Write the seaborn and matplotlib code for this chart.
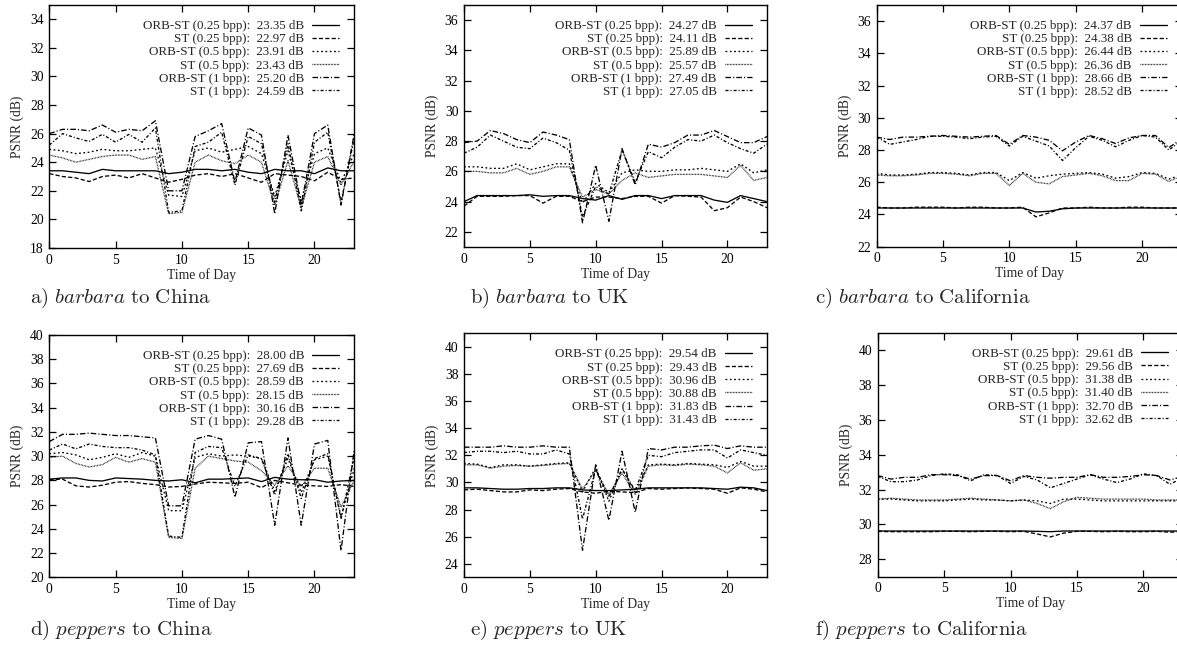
import matplotlib
matplotlib.use('Agg')
import matplotlib.pyplot as plt
import seaborn as sns

hours = list(range(24))

series_names = ['ORB-ST (0.25 bpp)', 'ST (0.25 bpp)', 'ORB-ST (0.5 bpp)',
                'ST (0.5 bpp)', 'ORB-ST (1 bpp)', 'ST (1 bpp)']

# a) barbara to China
a_orb025 = [23.4, 23.4, 23.3, 23.2, 23.5, 23.4, 23.4, 23.4, 23.4, 23.2, 23.3, 23.5,
            23.5, 23.4, 23.5, 23.3, 23.2, 23.5, 23.4, 23.4, 23.2, 23.6, 23.4, 23.4]
a_st025 = [23.2, 23.0, 22.9, 22.65, 23.0, 23.1, 22.9, 23.2, 22.9, 22.6, 22.8, 23.1,
           23.2, 23.0, 23.2, 22.9, 22.6, 23.2, 23.1, 23.0, 22.7, 23.3, 22.8, 22.9]
a_orb05 = [24.9, 24.8, 24.6, 24.7, 24.9, 24.8, 24.8, 24.9, 25.0, 21.7, 21.6, 24.8,
           25.0, 24.7, 24.9, 25.1, 24.6, 21.6, 24.8, 21.3, 24.6, 25.0, 22.6, 24.6]
a_st05 = [24.5, 24.3, 24.0, 24.2, 24.4, 24.5, 24.5, 24.2, 24.4, 20.4, 20.5, 24.0,
          24.5, 24.1, 23.9, 24.5, 24.0, 21.0, 24.1, 20.8, 24.0, 24.4, 22.4, 24.1]
a_orb1 = [26.0, 26.3, 26.3, 26.2, 26.6, 26.1, 26.3, 26.2, 26.9, 22.0, 22.0, 25.8,
          26.2, 26.7, 22.6, 26.4, 25.9, 20.4, 25.9, 21.0, 26.0, 26.6, 21.0, 26.0]
a_st1 = [25.2, 26.0, 25.7, 25.45, 25.95, 25.4, 25.95, 25.4, 26.4, 20.5, 20.6, 25.1,
         25.4, 26.1, 22.4, 25.8, 25.3, 21.2, 25.3, 20.6, 25.4, 26.1, 21.2, 25.7]
a_means = [23.35, 22.97, 23.91, 23.43, 25.20, 24.59]

# b) barbara to UK
b_orb025 = [24.0, 24.4, 24.4, 24.4, 24.4, 24.45, 24.35, 24.4, 24.4, 24.2, 24.1, 24.4,
            24.15, 24.4, 24.4, 24.2, 24.4, 24.4, 24.4, 24.1, 23.95, 24.4, 24.2, 24.0]
b_st025 = [23.7, 24.35, 24.35, 24.35, 24.4, 24.4, 23.9, 24.35, 24.35, 24.0, 24.3, 24.3,
           24.2, 24.35, 24.35, 23.9, 24.4, 24.35, 24.3, 23.4, 23.6, 24.3, 24.0, 23.6]
b_orb05 = [26.3, 26.3, 26.2, 26.2, 26.5, 26.1, 26.3, 26.5, 26.5, 23.9, 25.2, 24.6,
           25.9, 26.1, 26.0, 26.0, 26.1, 26.1, 26.2, 26.1, 26.0, 26.5, 25.9, 26.1]
b_st05 = [26.0, 26.0, 25.9, 25.9, 26.2, 25.8, 26.0, 26.3, 26.3, 24.3, 24.8, 24.5,
          25.4, 25.9, 25.6, 25.7, 25.8, 25.8, 25.8, 25.7, 25.6, 26.4, 25.4, 25.6]
b_orb1 = [27.9, 28.0, 28.7, 28.5, 28.1, 27.9, 28.6, 28.4, 28.1, 22.6, 26.4, 22.7,
          27.5, 25.1, 27.8, 27.6, 27.9, 28.4, 28.4, 28.7, 28.3, 27.9, 27.9, 28.3]
b_st1 = [27.2, 27.6, 28.4, 28.0, 27.6, 27.5, 28.2, 27.9, 27.4, 23.0, 25.0, 24.5,
         27.4, 25.3, 27.3, 26.9, 27.6, 28.1, 28.0, 28.4, 27.9, 27.5, 27.2, 27.8]
b_means = [24.27, 24.11, 25.89, 25.57, 27.49, 27.05]

# c) barbara to California
c_orb025 = [24.4, 24.4, 24.4, 24.4, 24.4, 24.4, 24.4, 24.4, 24.4, 24.4, 24.4, 24.4,
            24.15, 24.2, 24.35, 24.4, 24.4, 24.4, 24.4, 24.4, 24.4, 24.4, 24.4, 24.4]
c_st025 = [24.45, 24.4, 24.4, 24.45, 24.45, 24.45, 24.4, 24.45, 24.45, 24.4, 24.4, 24.45,
           23.85, 24.1, 24.4, 24.4, 24.45, 24.4, 24.4, 24.45, 24.45, 24.4, 24.4, 24.4]
c_orb05 = [26.55, 26.45, 26.45, 26.5, 26.6, 26.6, 26.55, 26.45, 26.6, 26.6, 26.1, 26.6,
           26.25, 26.4, 26.5, 26.55, 26.6, 26.5, 26.25, 26.35, 26.6, 26.55, 26.2, 26.45]
c_st05 = [26.45, 26.4, 26.4, 26.45, 26.55, 26.55, 26.5, 26.4, 26.55, 26.55, 25.8, 26.55,
          26.0, 25.9, 26.35, 26.45, 26.55, 26.4, 26.1, 26.1, 26.55, 26.5, 26.05, 26.4]
c_orb1 = [28.8, 28.65, 28.8, 28.8, 28.85, 28.9, 28.85, 28.8, 28.85, 28.9, 28.35, 28.9,
          28.8, 28.6, 27.95, 28.5, 28.9, 28.7, 28.4, 28.75, 28.9, 28.9, 28.15, 28.7]
c_st1 = [28.8, 28.35, 28.5, 28.65, 28.85, 28.85, 28.8, 28.7, 28.8, 28.85, 28.25, 28.85,
         28.55, 28.25, 27.35, 28.15, 28.85, 28.6, 28.2, 28.6, 28.9, 28.8, 28.0, 28.6]
c_means = [24.37, 24.38, 26.44, 26.36, 28.66, 28.52]

# d) peppers to China
d_orb025 = [28.1, 28.2, 28.2, 28.0, 27.95, 28.2, 28.15, 28.1, 28.0, 27.95, 28.05, 27.8,
            28.1, 28.1, 28.15, 28.2, 27.9, 28.25, 28.1, 28.05, 28.05, 27.85, 27.95, 28.0]
d_st025 = [28.05, 28.1, 27.55, 27.45, 27.6, 27.85, 27.9, 27.75, 27.65, 27.45, 27.5, 27.7,
           27.85, 27.8, 27.75, 27.85, 27.4, 28.0, 27.8, 27.6, 27.55, 27.5, 27.65, 27.5]
d_orb05 = [30.2, 30.3, 30.1, 29.7, 29.9, 30.2, 29.9, 30.3, 30.0, 25.5, 25.5, 29.9,
           30.2, 30.0, 30.1, 30.0, 29.8, 27.1, 29.8, 27.0, 29.7, 30.0, 25.0, 29.0]
d_st05 = [29.9, 30.0, 29.4, 29.1, 29.3, 29.9, 29.5, 29.8, 29.5, 23.3, 23.2, 29.0,
          30.0, 29.8, 29.6, 29.5, 28.8, 27.6, 29.2, 27.5, 29.0, 29.0, 25.8, 28.0]
d_orb1 = [31.2, 31.8, 31.8, 31.9, 31.8, 31.7, 31.7, 31.6, 31.5, 25.9, 25.9, 31.4,
          31.7, 31.4, 26.6, 31.1, 31.2, 24.3, 31.5, 24.3, 31.0, 31.3, 22.2, 30.6]
d_st1 = [30.5, 31.0, 30.6, 31.0, 30.8, 30.7, 30.7, 30.5, 30.1, 23.4, 23.3, 30.3,
         30.8, 30.7, 27.5, 30.1, 29.8, 26.8, 30.2, 26.5, 29.8, 30.2, 24.8, 30.0]
d_means = [28.00, 27.69, 28.59, 28.15, 30.16, 29.28]

# e) peppers to UK
e_orb025 = [29.6, 29.6, 29.55, 29.5, 29.5, 29.55, 29.55, 29.6, 29.6, 29.45, 29.4, 29.4,
            29.45, 29.5, 29.6, 29.6, 29.6, 29.6, 29.6, 29.55, 29.5, 29.65, 29.6, 29.4]
e_st025 = [29.45, 29.5, 29.4, 29.3, 29.3, 29.45, 29.4, 29.5, 29.55, 29.3, 29.2, 29.35,
           29.3, 29.25, 29.55, 29.5, 29.55, 29.6, 29.55, 29.5, 29.2, 29.6, 29.5, 29.3]
e_orb05 = [31.4, 31.35, 31.1, 31.3, 31.3, 31.2, 31.3, 31.4, 31.45, 29.3, 31.1, 28.6,
           31.0, 29.3, 31.3, 31.35, 31.3, 31.4, 31.35, 31.3, 31.1, 31.55, 31.2, 31.2]
e_st05 = [31.3, 31.3, 31.05, 31.2, 31.25, 31.2, 31.25, 31.35, 31.4, 29.5, 30.9, 29.1,
          30.7, 29.1, 31.2, 31.3, 31.25, 31.35, 31.3, 31.2, 30.7, 31.45, 30.9, 31.0]
e_orb1 = [32.6, 32.6, 32.6, 32.7, 32.6, 32.6, 32.7, 32.6, 32.6, 25.0, 31.3, 27.2,
          32.3, 27.8, 32.5, 32.4, 32.6, 32.6, 32.7, 32.75, 32.5, 32.7, 32.6, 32.6]
e_st1 = [32.2, 32.3, 32.3, 32.2, 32.3, 32.1, 32.1, 32.4, 32.1, 27.3, 31.0, 28.9,
         31.0, 29.4, 32.0, 31.9, 32.2, 32.3, 32.4, 32.4, 31.8, 32.4, 32.2, 32.0]
e_means = [29.54, 29.43, 30.96, 30.88, 31.83, 31.43]

# f) peppers to California
f_orb025 = [29.62, 29.62, 29.62, 29.62, 29.62, 29.62, 29.62, 29.62, 29.62, 29.62, 29.62, 29.62,
            29.6, 29.58, 29.62, 29.62, 29.62, 29.62, 29.62, 29.62, 29.62, 29.62, 29.62, 29.62]
f_st025 = [29.6, 29.58, 29.58, 29.58, 29.58, 29.6, 29.6, 29.58, 29.6, 29.6, 29.58, 29.6,
           29.45, 29.28, 29.5, 29.6, 29.6, 29.58, 29.6, 29.58, 29.58, 29.6, 29.55, 29.58]
f_orb05 = [31.45, 31.45, 31.4, 31.35, 31.35, 31.35, 31.4, 31.45, 31.4, 31.4, 31.35, 31.4,
           31.35, 31.2, 31.45, 31.45, 31.4, 31.35, 31.35, 31.35, 31.35, 31.35, 31.35, 31.35]
f_st05 = [31.45, 31.5, 31.45, 31.4, 31.4, 31.4, 31.45, 31.5, 31.45, 31.4, 31.35, 31.4,
          31.2, 30.9, 31.3, 31.55, 31.5, 31.45, 31.45, 31.45, 31.45, 31.4, 31.4, 31.4]
f_orb1 = [32.8, 32.6, 32.7, 32.7, 32.85, 32.85, 32.8, 32.6, 32.8, 32.8, 32.5, 32.8,
          32.7, 32.65, 32.7, 32.7, 32.85, 32.7, 32.7, 32.75, 32.85, 32.8, 32.55, 32.75]
f_st1 = [32.75, 32.45, 32.45, 32.55, 32.8, 32.9, 32.85, 32.5, 32.85, 32.8, 32.35, 32.75,
         32.55, 32.1, 32.35, 32.6, 32.85, 32.6, 32.4, 32.6, 32.9, 32.8, 32.3, 32.7]
f_means = [29.61, 29.56, 31.38, 31.40, 32.70, 32.62]

panel_images = ['barbara', 'barbara', 'barbara', 'peppers', 'peppers', 'peppers']
panel_letters = ['a', 'b', 'c', 'd', 'e', 'f']
panel_dest = ['China', 'UK', 'California', 'China', 'UK', 'California']
panel_ylims = [(18, 35), (21, 37), (22, 37), (20, 40), (23, 41), (27, 41)]
panel_yticks = [range(18, 35, 2), range(22, 37, 2), range(22, 37, 2),
                range(20, 41, 2), range(24, 41, 2), range(28, 41, 2)]
xticks = [0, 5, 10, 15, 20]

panel_data = [
    [a_orb025, a_st025, a_orb05, a_st05, a_orb1, a_st1],
    [b_orb025, b_st025, b_orb05, b_st05, b_orb1, b_st1],
    [c_orb025, c_st025, c_orb05, c_st05, c_orb1, c_st1],
    [d_orb025, d_st025, d_orb05, d_st05, d_orb1, d_st1],
    [e_orb025, e_st025, e_orb05, e_st05, e_orb1, e_st1],
    [f_orb025, f_st025, f_orb05, f_st05, f_orb1, f_st1],
]
panel_means = [a_means, b_means, c_means, d_means, e_means, f_means]

# gnuplot-like monochrome line types
line_styles = ['-', (0, (3.0, 1.6)), (0, (1.3, 1.8)), (0, (0.5, 0.6)),
               (0, (4.0, 1.5, 0.8, 1.5)), (0, (2.2, 1.4, 0.8, 1.4))]

# axes rectangles in figure fraction
axes_rects = [
    [0.0419, 0.6214, 0.2591, 0.3710],
    [0.3942, 0.6229, 0.2574, 0.3695],
    [0.7447, 0.6234, 0.2596, 0.3690],
    [0.0419, 0.1186, 0.2591, 0.3700],
    [0.3942, 0.1186, 0.2574, 0.3725],
    [0.7457, 0.1196, 0.2596, 0.3725],
]
caption_pos = [(30, 298), (470, 298), (815, 298), (30, 630), (470, 630), (815, 630)]

sns.set_style('ticks')
plt.rcParams['font.family'] = ['Liberation Serif', 'DejaVu Serif']
plt.rcParams['mathtext.fontset'] = 'cm'
plt.rcParams['lines.scale_dashes'] = False

W, H = 1177, 655
fig = plt.figure(figsize=(W / 100, H / 100), dpi=100)

for i in range(6):
    ax = fig.add_axes(axes_rects[i])
    for vals, name, mean, ls in zip(panel_data[i], series_names, panel_means[i], line_styles):
        sns.lineplot(x=hours, y=vals, ax=ax, color='black', linestyle=ls,
                     linewidth=0.95, label=f"{name}:  {mean:.2f} dB")
    ax.set_xlim(0, 23)
    ax.set_ylim(*panel_ylims[i])
    ax.set_xticks(xticks)
    ax.set_yticks(list(panel_yticks[i]))
    ax.tick_params(direction='in', top=True, right=True, length=5, width=0.9,
                   labelsize=9.8, pad=4, colors='black')
    for sp in ax.spines.values():
        sp.set_visible(True)
        sp.set_linewidth(1.0)
        sp.set_color('black')
    ax.set_xlabel('Time of Day', fontsize=9.8, labelpad=1)
    ax.set_ylabel('PSNR (dB)', fontsize=9.8, labelpad=4)
    ax.legend(loc='upper right', frameon=False, markerfirst=False, fontsize=9.4,
              handlelength=2.1, handletextpad=0.6, labelspacing=0.08,
              borderaxespad=0.75)

    cx, cy = caption_pos[i]
    cap = r"$\mathrm{%s)}\ \mathit{%s}\ \mathrm{to\ %s}$" % (
        panel_letters[i], panel_images[i], panel_dest[i])
    fig.text(cx / W, 1 - cy / H, cap, fontsize=15, ha='left', va='center')

fig.savefig('out.png', dpi=100)
